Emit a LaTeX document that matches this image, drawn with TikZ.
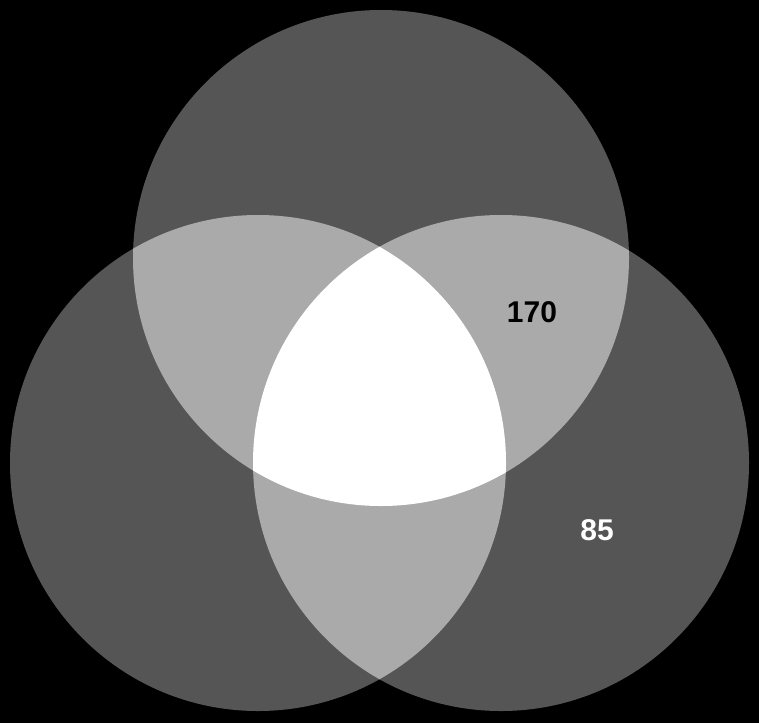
\documentclass[tikz,border=0pt]{standalone}
\usepackage{fontspec}
\setmainfont{Liberation Sans}
\definecolor{oneset}{RGB}{85,85,85}
\definecolor{twoset}{RGB}{170,170,170}
\begin{document}
\begin{tikzpicture}[x=1pt,y=-1pt,
  lbl/.style={font=\fontsize{30}{30}\selectfont\bfseries, inner sep=0pt}]
\fill[black] (0,0) rectangle (759,723);
\useasboundingbox (0,0) rectangle (759,723);
\def\R{248}
\coordinate (T) at (381,258);
\coordinate (L) at (258,463);
\coordinate (Rc) at (501,463);
% single regions
\fill[oneset] (T) circle (\R);
\fill[oneset] (L) circle (\R);
\fill[oneset] (Rc) circle (\R);
% pairwise intersections
\begin{scope}
  \clip (T) circle (\R);
  \fill[twoset] (L) circle (\R);
  \fill[twoset] (Rc) circle (\R);
\end{scope}
\begin{scope}
  \clip (L) circle (\R);
  \fill[twoset] (Rc) circle (\R);
\end{scope}
% triple intersection
\begin{scope}
  \clip (T) circle (\R);
  \clip (L) circle (\R);
  \fill[white] (Rc) circle (\R);
\end{scope}
\node[lbl, text=black] (n170) at (532,312) {170};
\node[lbl, text=white] (n85) at (597,530) {85};
\end{tikzpicture}
\end{document}
